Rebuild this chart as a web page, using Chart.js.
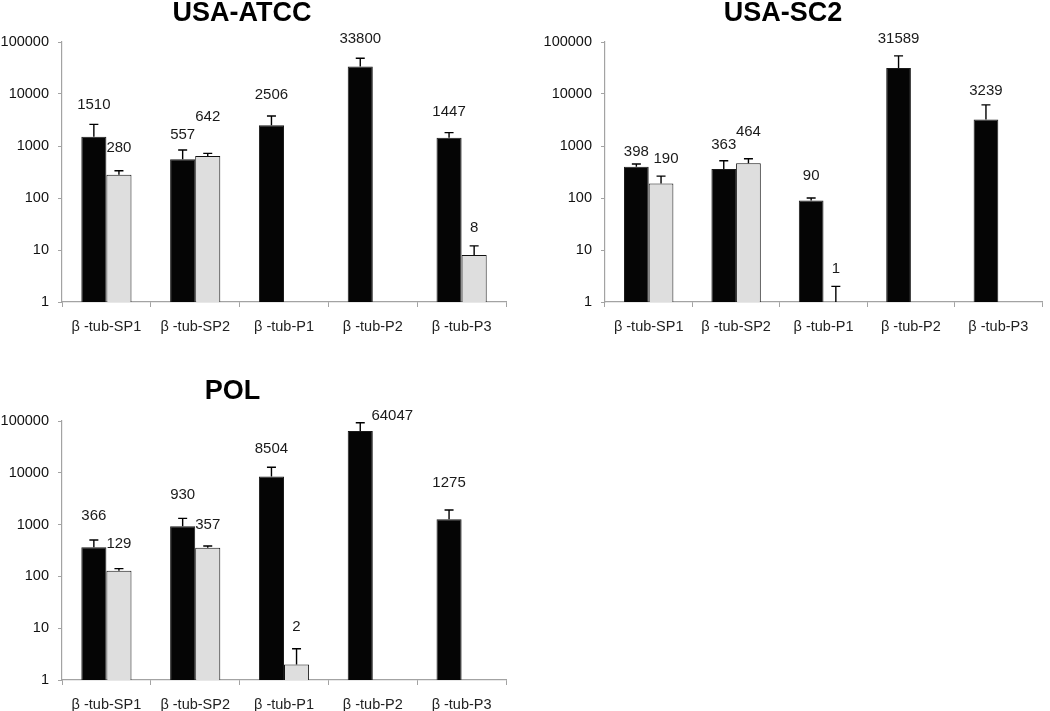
<!DOCTYPE html>
<html><head><meta charset="utf-8">
<script src="https://cdn.jsdelivr.net/npm/chart.js@4.4.1/dist/chart.umd.min.js"></script>
<style>
html,body{margin:0;padding:0;background:#fff;}
body{width:1050px;height:711px;overflow:hidden;position:relative;}
.panel{position:absolute;}
</style>
</head><body>
<div class="panel" style="left:-40px;top:0;width:564px;height:345px"><canvas id="c1"></canvas></div>
<div class="panel" style="left:520px;top:0;width:526px;height:345px"><canvas id="c2"></canvas></div>
<div class="panel" style="left:-50px;top:360px;width:565px;height:351px"><canvas id="c3"></canvas></div>
<script>
// ---- data ----
const categories = ['β -tub-SP1', 'β -tub-SP2', 'β -tub-P1', 'β -tub-P2', 'β -tub-P3'];
const yTickValues = [1, 10, 100, 1000, 10000, 100000];

const atccTitle = 'USA-ATCC';
const atccBlack = [1510, 557, 2506, 33800, 1447];
const atccGray = [280, 642, null, null, 8];
const atccBlackErr = [1100, 280, 1270, 14750, 360];
const atccGrayErr = [55, 80, null, null, 4];

const sc2Title = 'USA-SC2';
const sc2Black = [398, 363, 90, 31589, 3239];
const sc2Gray = [190, 464, 1, null, null];
const sc2BlackErr = [52, 158, 10, 22600, 2930];
const sc2GrayErr = [74, 105, 1, null, null];

const polTitle = 'POL';
const polBlack = [366, 930, 8504, 64047, 1275];
const polGray = [129, 357, 2, null, null];
const polBlackErr = [140, 390, 4270, 28650, 640];
const polGrayErr = [12, 30, 2, null, null];

// ---- label placement (pixels above the error-bar top, and horizontal nudge) ----
const atccLift = {black: [19, 15, 21, 19, 21], gray: [23, 36, 0, 0, 18], blackDx: [0,0,0,0,0], grayDx: [0,0,0,0,0]};
const sc2Lift = {black: [12, 16, 22, 17, 14], gray: [17, 27, 17, 0, 0], blackDx: [0,0,0,0,0], grayDx: [5,0,0,0,0]};
const polLift = {black: [24, 23, 18, 7, 27], gray: [25, 21, 22, 0, 0], blackDx: [0,0,0,32,0], grayDx: [0,0,0,0,0]};

const FONT = "'Liberation Sans', Arial, Helvetica, sans-serif";
Chart.defaults.font.family = FONT;
const AXIS = '#a3a3a3';

const errorBarsPlugin = {
  id: 'errorBars',
  afterDatasetsDraw(chart) {
    const ctx = chart.ctx;
    const ys = chart.scales.y;
    chart.data.datasets.forEach((ds, di) => {
      const meta = chart.getDatasetMeta(di);
      meta.data.forEach((bar, i) => {
        const v = ds.data[i];
        if (v == null) return;
        const top = ys.getPixelForValue(v + ds.errors[i]);
        ctx.save();
        ctx.strokeStyle = '#000';
        ctx.lineWidth = 1.4;
        ctx.beginPath();
        ctx.moveTo(bar.x, bar.y);
        ctx.lineTo(bar.x, top);
        ctx.moveTo(bar.x - 4.5, top);
        ctx.lineTo(bar.x + 4.5, top);
        ctx.stroke();
        ctx.fillStyle = '#1a1a1a';
        ctx.font = '15px ' + FONT;
        ctx.textAlign = 'center';
        ctx.textBaseline = 'middle';
        ctx.fillText(String(v), bar.x + ds.labelDx[i], top - ds.labelLift[i]);
        ctx.restore();
      });
    });
  }
};

function makePanel(id, title, black, gray, blackErr, grayErr, lift, geo) {
  new Chart(document.getElementById(id), {
    type: 'bar',
    data: {
      labels: categories,
      datasets: [
        {data: black, errors: blackErr, labelLift: lift.black, labelDx: lift.blackDx,
         backgroundColor: '#050505', borderColor: '#1a1a1a', borderWidth: 1,
         categoryPercentage: 0.565, barPercentage: 1},
        {data: gray, errors: grayErr, labelLift: lift.gray, labelDx: lift.grayDx,
         backgroundColor: '#dedede', borderColor: '#111', borderWidth: 1,
         categoryPercentage: 0.565, barPercentage: 1}
      ]
    },
    options: {
      responsive: true,
      maintainAspectRatio: false,
      animation: false,
      layout: {padding: {top: geo.padTop, right: geo.pad, bottom: 0, left: geo.pad}},
      plugins: {
        legend: {display: false},
        tooltip: {enabled: false},
        title: {
          display: true, text: title, color: '#000',
          font: {size: 27, weight: 'bold', family: FONT, lineHeight: 1},
          padding: {top: 0, bottom: geo.titleGap}
        }
      },
      scales: {
        x: {
          grid: {display: true, drawOnChartArea: false, drawTicks: true, tickLength: 5, color: AXIS, offset: true},
          border: {display: true, color: AXIS, width: 1.2},
          ticks: {color: '#222', font: {size: 14.5, family: FONT}, padding: 11, maxRotation: 0, autoSkip: false},
          afterFit: s => { s.height = geo.xHeight; }
        },
        y: {
          type: 'logarithmic',
          min: 1, max: 100000,
          afterBuildTicks: s => { s.ticks = yTickValues.map(v => ({value: v})); },
          grid: {display: true, drawOnChartArea: false, drawTicks: true, tickLength: 4, color: AXIS},
          border: {display: true, color: AXIS, width: 1.2},
          ticks: {color: '#111', font: {size: 14.5, family: FONT}, padding: 9, callback: v => String(v)},
          afterFit: s => { s.width = geo.yWidth; }
        }
      }
    },
    plugins: [errorBarsPlugin]
  });
}

makePanel('c1', atccTitle, atccBlack, atccGray, atccBlackErr, atccGrayErr, atccLift,
  {padTop: 0, titleGap: 15, pad: 18, xHeight: 43, yWidth: 84});
makePanel('c2', sc2Title, sc2Black, sc2Gray, sc2BlackErr, sc2GrayErr, sc2Lift,
  {padTop: 0, titleGap: 15, pad: 4, xHeight: 43, yWidth: 81});
makePanel('c3', polTitle, polBlack, polGray, polBlackErr, polGrayErr, polLift,
  {padTop: 18, titleGap: 16, pad: 9, xHeight: 31, yWidth: 103});
</script>
</body></html>
